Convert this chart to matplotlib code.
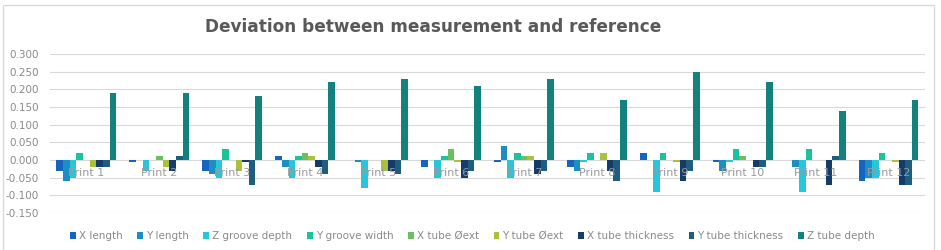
import numpy as np
import matplotlib
matplotlib.use("Agg")
import matplotlib.pyplot as plt
from matplotlib.patches import Rectangle

prints = ["Print 1", "Print 2", "Print 3", "Print 4", "Print 5", "Print 6",
          "Print 7", "Print 8", "Print 9", "Print 10", "Print 11", "Print 12"]

series = ["X length", "Y length", "Z groove depth", "Y groove width", "X tube Øext",
          "Y tube Øext", "X tube thickness", "Y tube thickness", "Z tube depth"]

x_length = [-0.030, -0.005, -0.030, 0.010, 0.000, -0.020, -0.005, -0.020, 0.020, -0.005, 0.000, -0.060]
y_length = [-0.060, 0.000, -0.040, -0.020, -0.005, 0.000, 0.040, -0.030, 0.000, -0.030, -0.020, -0.050]
z_groove_depth = [-0.050, -0.030, -0.050, -0.050, -0.080, -0.050, -0.050, -0.007, -0.090, -0.005, -0.090, -0.050]
y_groove_width = [0.020, 0.000, 0.030, 0.010, 0.000, 0.010, 0.020, 0.020, 0.020, 0.030, 0.030, 0.020]
x_tube_oext = [0.000, 0.010, 0.000, 0.020, 0.000, 0.030, 0.010, 0.000, 0.000, 0.010, 0.000, 0.000]
y_tube_oext = [-0.020, -0.020, -0.030, 0.010, -0.030, -0.007, 0.010, 0.020, -0.005, 0.000, 0.000, -0.005]
x_tube_thickness = [-0.020, -0.030, -0.007, -0.020, -0.030, -0.050, -0.040, -0.030, -0.060, -0.020, -0.070, -0.070]
y_tube_thickness = [-0.020, 0.010, -0.070, -0.040, -0.040, -0.030, -0.030, -0.060, -0.030, -0.020, 0.010, -0.070]
z_tube_depth = [0.190, 0.190, 0.180, 0.220, 0.230, 0.210, 0.230, 0.170, 0.250, 0.220, 0.140, 0.170]

valores = [x_length, y_length, z_groove_depth, y_groove_width, x_tube_oext,
           y_tube_oext, x_tube_thickness, y_tube_thickness, z_tube_depth]

colores = ["#1565c0", "#1b8fc4", "#27c6da", "#19c39b", "#6abf5e",
           "#a8c23c", "#133c6b", "#1c5d80", "#13827e"]

gris = "#8a8a8a"

fig = plt.figure(figsize=(9.41, 2.5), dpi=100)
ax = fig.add_axes([0.053, 0.148, 0.930, 0.636])

# borde del grafico
fig.patches.append(Rectangle((0.003, -0.01), 0.990, 0.99, transform=fig.transFigure,
                             fill=False, edgecolor="#d9d9d9", lw=1.0))

x = np.arange(len(prints))
ancho = 0.82 / len(series)
for i, (nombre, datos, color) in enumerate(zip(series, valores, colores)):
    desplazamiento = (i - (len(series) - 1) / 2) * ancho
    ax.bar(x + desplazamiento, datos, width=ancho, color=color, label=nombre, zorder=3)

ax.set_xlim(-0.5, len(prints) - 0.5)
ax.set_ylim(-0.15, 0.30)
ax.set_yticks(np.arange(-0.15, 0.301, 0.05))
ax.yaxis.set_major_formatter(matplotlib.ticker.FormatStrFormatter("%.3f"))
ax.tick_params(axis="y", length=0, labelsize=7.5, labelcolor=gris, pad=8)
ax.set_xticks([])
ax.grid(True, axis="y", color="#d9d9d9", lw=0.8, zorder=0)
for lado in ax.spines.values():
    lado.set_visible(False)

# etiquetas de categoria sobre el eje cero
for xi, etiqueta in zip(x, prints):
    ax.text(xi, -0.037, etiqueta, ha="center", va="center", fontsize=8, color="#9a9a9a", zorder=4)

fig.text(0.46, 0.892, "Deviation between measurement and reference", ha="center", va="center",
         fontsize=12.2, fontweight="bold", color="#595959")

fig.legend(loc="center", bbox_to_anchor=(0.502, 0.055), ncol=9, frameon=False, fontsize=7.5,
           handlelength=0.55, handleheight=0.55, handletextpad=0.3, columnspacing=1.4,
           labelcolor=gris)

fig.savefig("out.png", dpi=100)
